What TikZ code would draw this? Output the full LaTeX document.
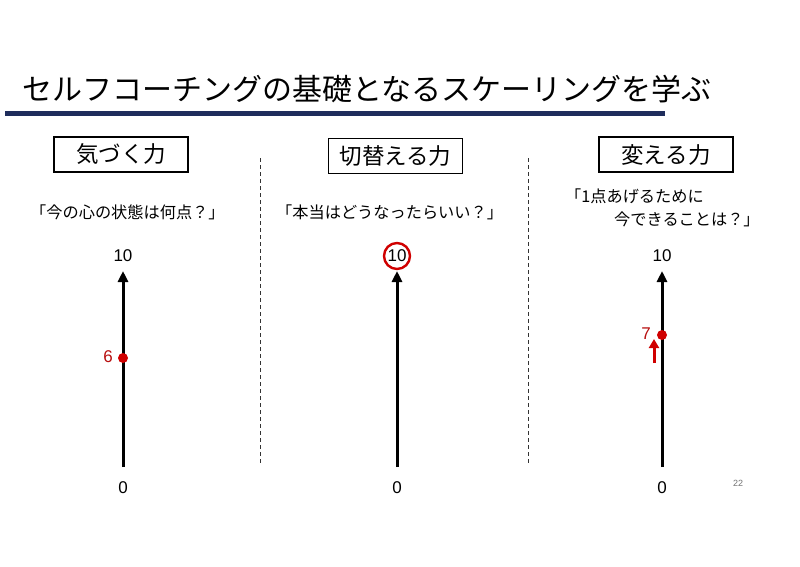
\documentclass[tikz,border=0pt]{standalone}
\usepackage{fontspec}
\setmainfont{Noto Sans CJK JP}
\newfontfamily\numfont{Liberation Sans}
\usetikzlibrary{arrows.meta}
\definecolor{navy}{HTML}{1F2D5C}
\definecolor{dotred}{HTML}{D00000}
\definecolor{labred}{HTML}{B80F0F}
\tikzset{
  titlebox/.style={draw=black, line width=1.1pt, minimum width=134pt, minimum height=35pt, inner sep=0pt, font=\fontsize{22.5}{24}\selectfont},
  question/.style={font=\fontsize{16.2}{22}\selectfont, inner sep=0pt, anchor=base west},
  axis/.style={line width=3pt, -{Triangle[width=10pt,length=11pt]}},
  numlab/.style={font=\numfont\fontsize{17}{18}\selectfont, inner sep=0pt},
  sep/.style={dash pattern=on 4pt off 3pt, line width=0.8pt, black!80},
  reddot/.style={circle, fill=dotred, inner sep=0pt, minimum size=10pt}
}
\begin{document}
\begin{tikzpicture}[x=1pt,y=-1pt]
\useasboundingbox (0,0) rectangle (800,566);
\fill[white] (0,0) rectangle (800,566);
% title
\node[anchor=base west, inner sep=0pt, font=\fontsize{30}{32}\selectfont] (title) at (22,100) {セルフコーチングの基礎となるスケーリングを学ぶ};
\fill[navy] (5,111) rectangle (665,116);
% boxes
\node[titlebox] (b1) at (121,154.5) {気づく力};
\node[titlebox] (b2) at (395.5,156) {切替える力};
\node[titlebox] (b3) at (666,154.5) {変える力};
% questions
\node[question] (q1) at (30,218) {「今の心の状態は何点？」};
\node[question] (q2) at (276,218) {「本当はどうなったらいい？」};
\node[question] (q3a) at (565,202) {「1点あげるために};
\node[question] (q3b) at (614,225) {今できることは？」};
% separators
\coordinate (s1t) at (260,158); \coordinate (s1b) at (260,463);
\coordinate (s2t) at (528,158); \coordinate (s2b) at (528,463);
\draw[sep] (s1t) -- (s1b);
\draw[sep] (s2t) -- (s2b);
% axes
\foreach \n/\x in {a/123,b/397,c/662}{
  \coordinate (\n0) at (\x,467);
  \coordinate (\n10) at (\x,271);
  \draw[axis] (\n0) -- (\n10);
  \node[numlab] (\n t) at (\x,256) {10};
  \node[numlab] (\n b) at (\x,488) {0};
}
% axis 1
\node[reddot] (d1) at (123,358) {};
\node[numlab, text=labred, anchor=east] (l6) at (113,357) {6};
% axis 2
\node[circle, draw=dotred, line width=2.4pt, minimum size=26pt, inner sep=0pt] (c10) at (bt) {};
% axis 3
\node[reddot] (d3) at (662,335) {};
\node[numlab, text=labred, anchor=east] (l7) at (651,334) {7};
\coordinate (r0) at (654,363);
\coordinate (r1) at (654,339);
\draw[line width=3pt, dotred, -{Triangle[width=10pt,length=9pt]}] (r0) -- (r1);
% page number
\node[font=\numfont\fontsize{9}{10}\selectfont, text=black!55, inner sep=0pt] (pg) at (738,483) {22};
\end{tikzpicture}
\end{document}
